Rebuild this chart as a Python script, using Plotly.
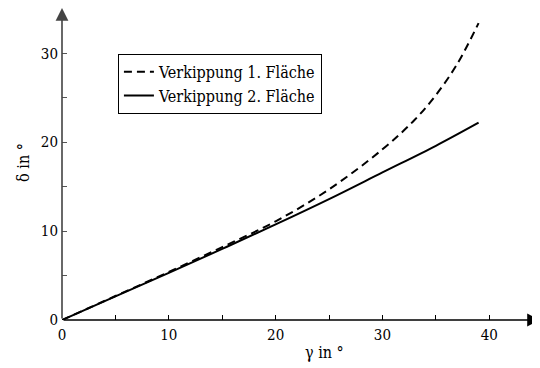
import plotly.graph_objects as go

gamma_1 = [0, 5, 10, 15, 20, 25, 30, 33, 35, 37, 39]
delta_1 = [0, 2.7, 5.4, 8.2, 11.1, 14.7, 19.2, 22.5, 25.3, 28.8, 33.4]
gamma_2 = [0, 5, 10, 15, 20, 25, 30, 35, 39]
delta_2 = [0, 2.65, 5.3, 8.0, 10.75, 13.6, 16.6, 19.6, 22.2]
name_1 = "Verkippung 1. Fläche"
name_2 = "Verkippung 2. Fläche"
x_ticks = [0, 10, 20, 30, 40]
y_ticks = [0, 10, 20, 30]
x_title = "γ in °"
y_title = "δ in °"

XMAX = 44.75
YMAX = 35.1
FONT = "DejaVu Serif Condensed, DejaVu Serif"

fig = go.Figure()
fig.add_trace(go.Scatter(x=gamma_1, y=delta_1, mode="lines", name=name_1,
                         line=dict(color="black", width=2, dash="8px,5px", shape="spline")))
fig.add_trace(go.Scatter(x=gamma_2, y=delta_2, mode="lines", name=name_2,
                         line=dict(color="black", width=2, shape="spline")))

axis_common = dict(showgrid=False, zeroline=False, showline=False,
                   ticks="inside", ticklen=5, tickwidth=1, automargin=False,
                   tickfont=dict(family=FONT, size=15, color="black"),
                   minor=dict(ticks="inside", ticklen=5, tickwidth=1, showgrid=False))

fig.update_xaxes(range=[0, XMAX], tickvals=x_ticks, tickcolor="black",
                 ticklabelstandoff=4,
                 minor_tickvals=[5, 15, 25, 35], minor_tickcolor="black", **axis_common)
fig.update_yaxes(range=[0, YMAX], tickvals=y_ticks, tickcolor="#555",
                 ticklabelstandoff=3,
                 minor_tickvals=[5, 15, 25], minor_tickcolor="#555", **axis_common)

# axis arrows
fig.add_annotation(x=XMAX, y=0, ax=0, ay=0, xref="x", yref="y", axref="x", ayref="y",
                   showarrow=True, arrowhead=2, arrowsize=1.6, arrowwidth=1.6,
                   arrowcolor="black", text="")
fig.add_annotation(x=0, y=YMAX, ax=0, ay=0, xref="x", yref="y", axref="x", ayref="y",
                   showarrow=True, arrowhead=2, arrowsize=1.6, arrowwidth=1.6,
                   arrowcolor="#444", text="")

fig.add_annotation(x=0.55, y=-0.105, xref="paper", yref="paper", text=x_title,
                   xanchor="center", yanchor="middle",
                   showarrow=False, font=dict(family=FONT, size=16, color="black"))
fig.add_annotation(x=-0.082, y=0.506, xref="paper", yref="paper", text=y_title,
                   xanchor="center", yanchor="middle",
                   showarrow=False, textangle=-90,
                   font=dict(family=FONT, size=16, color="black"))

# the page body adds an 8px offset, so margins compensate for it
fig.update_layout(
    width=540, height=368,
    margin=dict(l=54, r=8, t=0, b=56),
    plot_bgcolor="white", paper_bgcolor="white",
    showlegend=True,
    legend=dict(x=0.117, y=0.853, xanchor="left", yanchor="top",
                bordercolor="black", borderwidth=1, bgcolor="white",
                font=dict(family=FONT, size=16, color="black"),
                tracegroupgap=0, itemwidth=30),
)

fig.write_html("out.html")
